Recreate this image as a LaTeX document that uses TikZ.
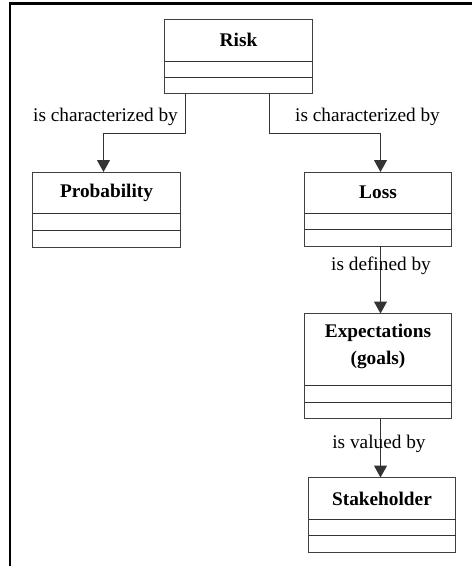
\documentclass[tikz,border=0pt]{standalone}
\usepackage{fontspec}
\setmainfont{Liberation Serif}
\usetikzlibrary{arrows.meta}
\begin{document}
\begin{tikzpicture}[x=1pt,y=-1pt,
  umlbox/.style={draw=black!75,line width=1pt,rectangle,inner sep=0pt,outer sep=0pt},
  divline/.style={draw=black!80,line width=1pt},
  title/.style={font=\fontsize{19.3}{27}\selectfont\bfseries,align=center,inner sep=0pt},
  rel/.style={font=\fontsize{19.3}{23}\selectfont,anchor=base,inner sep=0pt},
  arr/.style={draw=black!80,line width=1pt,-{Triangle[width=13pt,length=12pt]}},
  frame/.style={draw=black,line width=2.5pt}]
\useasboundingbox (0,0) rectangle (472,566);
% frame
\draw[frame] (8.8,3.3) -- (472,3.3);
\draw[frame] (10,2) -- (10,566);
% boxes
\node[umlbox,minimum width=148pt,minimum height=74pt] (risk) at (238.5,56.5) {};
\node[umlbox,minimum width=148pt,minimum height=75pt] (prob) at (106.5,209.5) {};
\node[umlbox,minimum width=147pt,minimum height=74pt] (loss) at (378,209) {};
\node[umlbox,minimum width=147pt,minimum height=105pt] (exp) at (378,366) {};
\node[umlbox,minimum width=147pt,minimum height=75pt] (stake) at (382,515) {};
% dividers
\draw[divline] (risk.west |- 0,61.5) -- (risk.east |- 0,61.5);
\draw[divline] (risk.west |- 0,77.5) -- (risk.east |- 0,77.5);
\draw[divline] (prob.west |- 0,213.5) -- (prob.east |- 0,213.5);
\draw[divline] (prob.west |- 0,230.5) -- (prob.east |- 0,230.5);
\draw[divline] (loss.west |- 0,213.5) -- (loss.east |- 0,213.5);
\draw[divline] (loss.west |- 0,229.5) -- (loss.east |- 0,229.5);
\draw[divline] (exp.west |- 0,385.5) -- (exp.east |- 0,385.5);
\draw[divline] (exp.west |- 0,402.5) -- (exp.east |- 0,402.5);
\draw[divline] (stake.west |- 0,519.5) -- (stake.east |- 0,519.5);
\draw[divline] (stake.west |- 0,535.5) -- (stake.east |- 0,535.5);
% titles
\node[title] (riskt) at (238.5,40) {Risk};
\node[title] (probt) at (106.5,192.8) {Probability};
\node[title] (losst) at (378,192.5) {Loss};
\node[title] (expt) at (378,346.5) {Expectations\\(goals)};
\node[title] (staket) at (382,498.5) {Stakeholder};
% connectors
\coordinate (rl) at (185.5,133.5);
\coordinate (rr) at (269.5,133.5);
\coordinate (e1) at (103.5,133.5);
\coordinate (e2) at (380.5,133.5);
\draw[arr] (risk.south -| rl) -- (rl) -- (e1) -- (prob.north -| e1);
\draw[arr] (risk.south -| rr) -- (rr) -- (e2) -- (loss.north -| e2);
\draw[arr] (loss.south -| e2) -- (exp.north -| e2);
\coordinate (e3) at (380.5,0);
\draw[arr] (exp.south -| e3) -- (stake.north -| e3);
% labels
\node[rel] (l1) at (105.5,121.7) {is characterized by};
\node[rel] (l2) at (367.5,121.7) {is characterized by};
\node[rel] (l3) at (381,270.5) {is defined by};
\node[rel] (l4) at (379,448.3) {is valued by};
\end{tikzpicture}
\end{document}
